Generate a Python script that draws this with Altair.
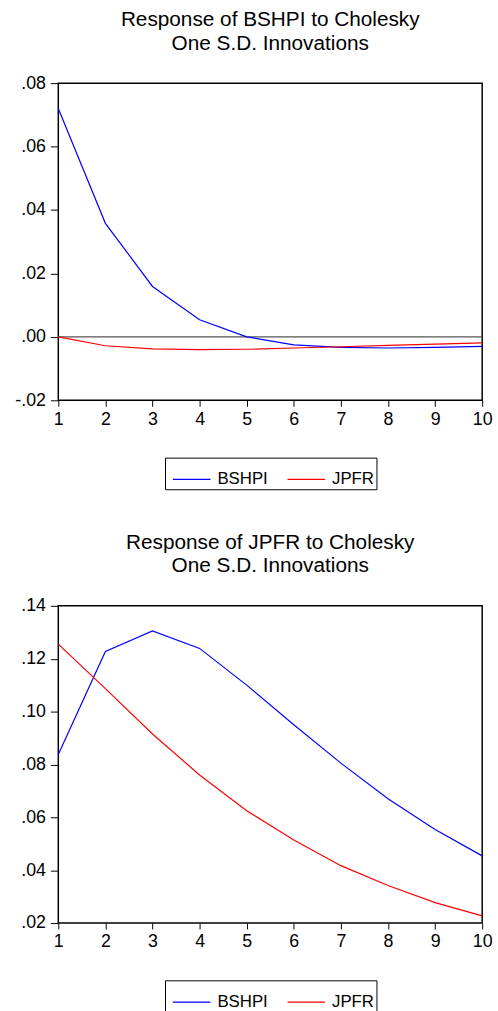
import altair as alt
import pandas as pd

periods = [1, 2, 3, 4, 5, 6, 7, 8, 9, 10]
series_names = ["BSHPI", "JPFR"]

# Response of BSHPI
bshpi_resp_bshpi = [0.0720, 0.0358, 0.0159, 0.0054, 0.0000, -0.0025, -0.0033, -0.0035, -0.0033, -0.0030]
bshpi_resp_jpfr = [0.0000, -0.0028, -0.0038, -0.0040, -0.0039, -0.0035, -0.0031, -0.0027, -0.0023, -0.0019]

# Response of JPFR
jpfr_resp_bshpi = [0.0838, 0.1227, 0.1305, 0.1239, 0.1100, 0.0950, 0.0805, 0.0670, 0.0554, 0.0454]
jpfr_resp_jpfr = [0.1255, 0.1087, 0.0915, 0.0760, 0.0625, 0.0514, 0.0417, 0.0342, 0.0277, 0.0227]

top_ticks = [-0.02, 0.0, 0.02, 0.04, 0.06, 0.08]
bottom_ticks = [0.02, 0.04, 0.06, 0.08, 0.10, 0.12, 0.14]

FONT = "Liberation Sans"
W, H = 429, 321


def panel(title_lines, s1, s2, ydom, yticks, zero_line):
    df = pd.DataFrame({
        "period": periods * 2,
        "value": s1 + s2,
        "series": [series_names[0]] * len(periods) + [series_names[1]] * len(periods),
    })
    x = alt.X("period:Q",
              scale=alt.Scale(domain=[1, 10], nice=False, zero=False),
              axis=alt.Axis(values=periods, title=None, format="d", labelFlush=False))
    y = alt.Y("value:Q",
              scale=alt.Scale(domain=ydom, nice=False, zero=False),
              axis=alt.Axis(values=yticks, title=None, labelFlush=False,
                            labelExpr="(datum.value < 0 ? '-' : '') + "
                                      "replace(format(abs(datum.value), '.2f'), '0.', '.')"))
    color = alt.Color("series:N",
                      scale=alt.Scale(domain=series_names, range=["#0000ff", "#ff0000"]),
                      legend=alt.Legend(title=None, orient="none", legendX=108, legendY=379,
                                        direction="horizontal", symbolType="stroke",
                                        symbolSize=1444, symbolStrokeWidth=1.2,
                                        labelFontSize=17, labelFont=FONT, labelColor="black",
                                        labelOffset=6, columnPadding=13, padding=2,
                                        symbolOffset=5,
                                        strokeColor="black", cornerRadius=0))
    lines = alt.Chart(df).mark_line(strokeWidth=1.2).encode(x=x, y=y, color=color)
    layers = []
    if zero_line:
        rule = alt.Chart(pd.DataFrame({"zero": [0.0]})).mark_rule(
            color="#555555", strokeWidth=1.2).encode(y="zero:Q")
        layers.append(rule)
    layers.append(lines)
    return alt.layer(*layers).properties(
        width=W, height=H,
        title=alt.TitleParams(text=title_lines, fontSize=21, font=FONT,
                              fontWeight="normal", anchor="middle", color="black",
                              lineHeight=24, offset=21, frame="group"),
    )


top = panel(["Response of BSHPI to Cholesky", "One S.D. Innovations"],
            bshpi_resp_bshpi, bshpi_resp_jpfr, [-0.02, 0.08], top_ticks, True)
bottom = panel(["Response of JPFR to Cholesky", "One S.D. Innovations"],
               jpfr_resp_bshpi, jpfr_resp_jpfr, [0.02, 0.14], bottom_ticks, False)

chart = alt.vconcat(top, bottom, spacing=40).resolve_scale(color="independent").resolve_legend(
    color="independent"
).properties(
    padding={"left": 14, "top": 2, "right": 5, "bottom": 0},
    background="white",
).configure_view(
    stroke="black", strokeWidth=1.5
).configure_axis(
    grid=False, domain=False, ticks=True, tickColor="black",
    labelFontSize=18, labelFont=FONT, labelColor="black",
).configure_axisX(
    tickSize=6, labelPadding=4
).configure_axisY(
    tickSize=8, labelPadding=5
)

chart.save("out.html", embed_options={"renderer": "svg", "actions": False})
